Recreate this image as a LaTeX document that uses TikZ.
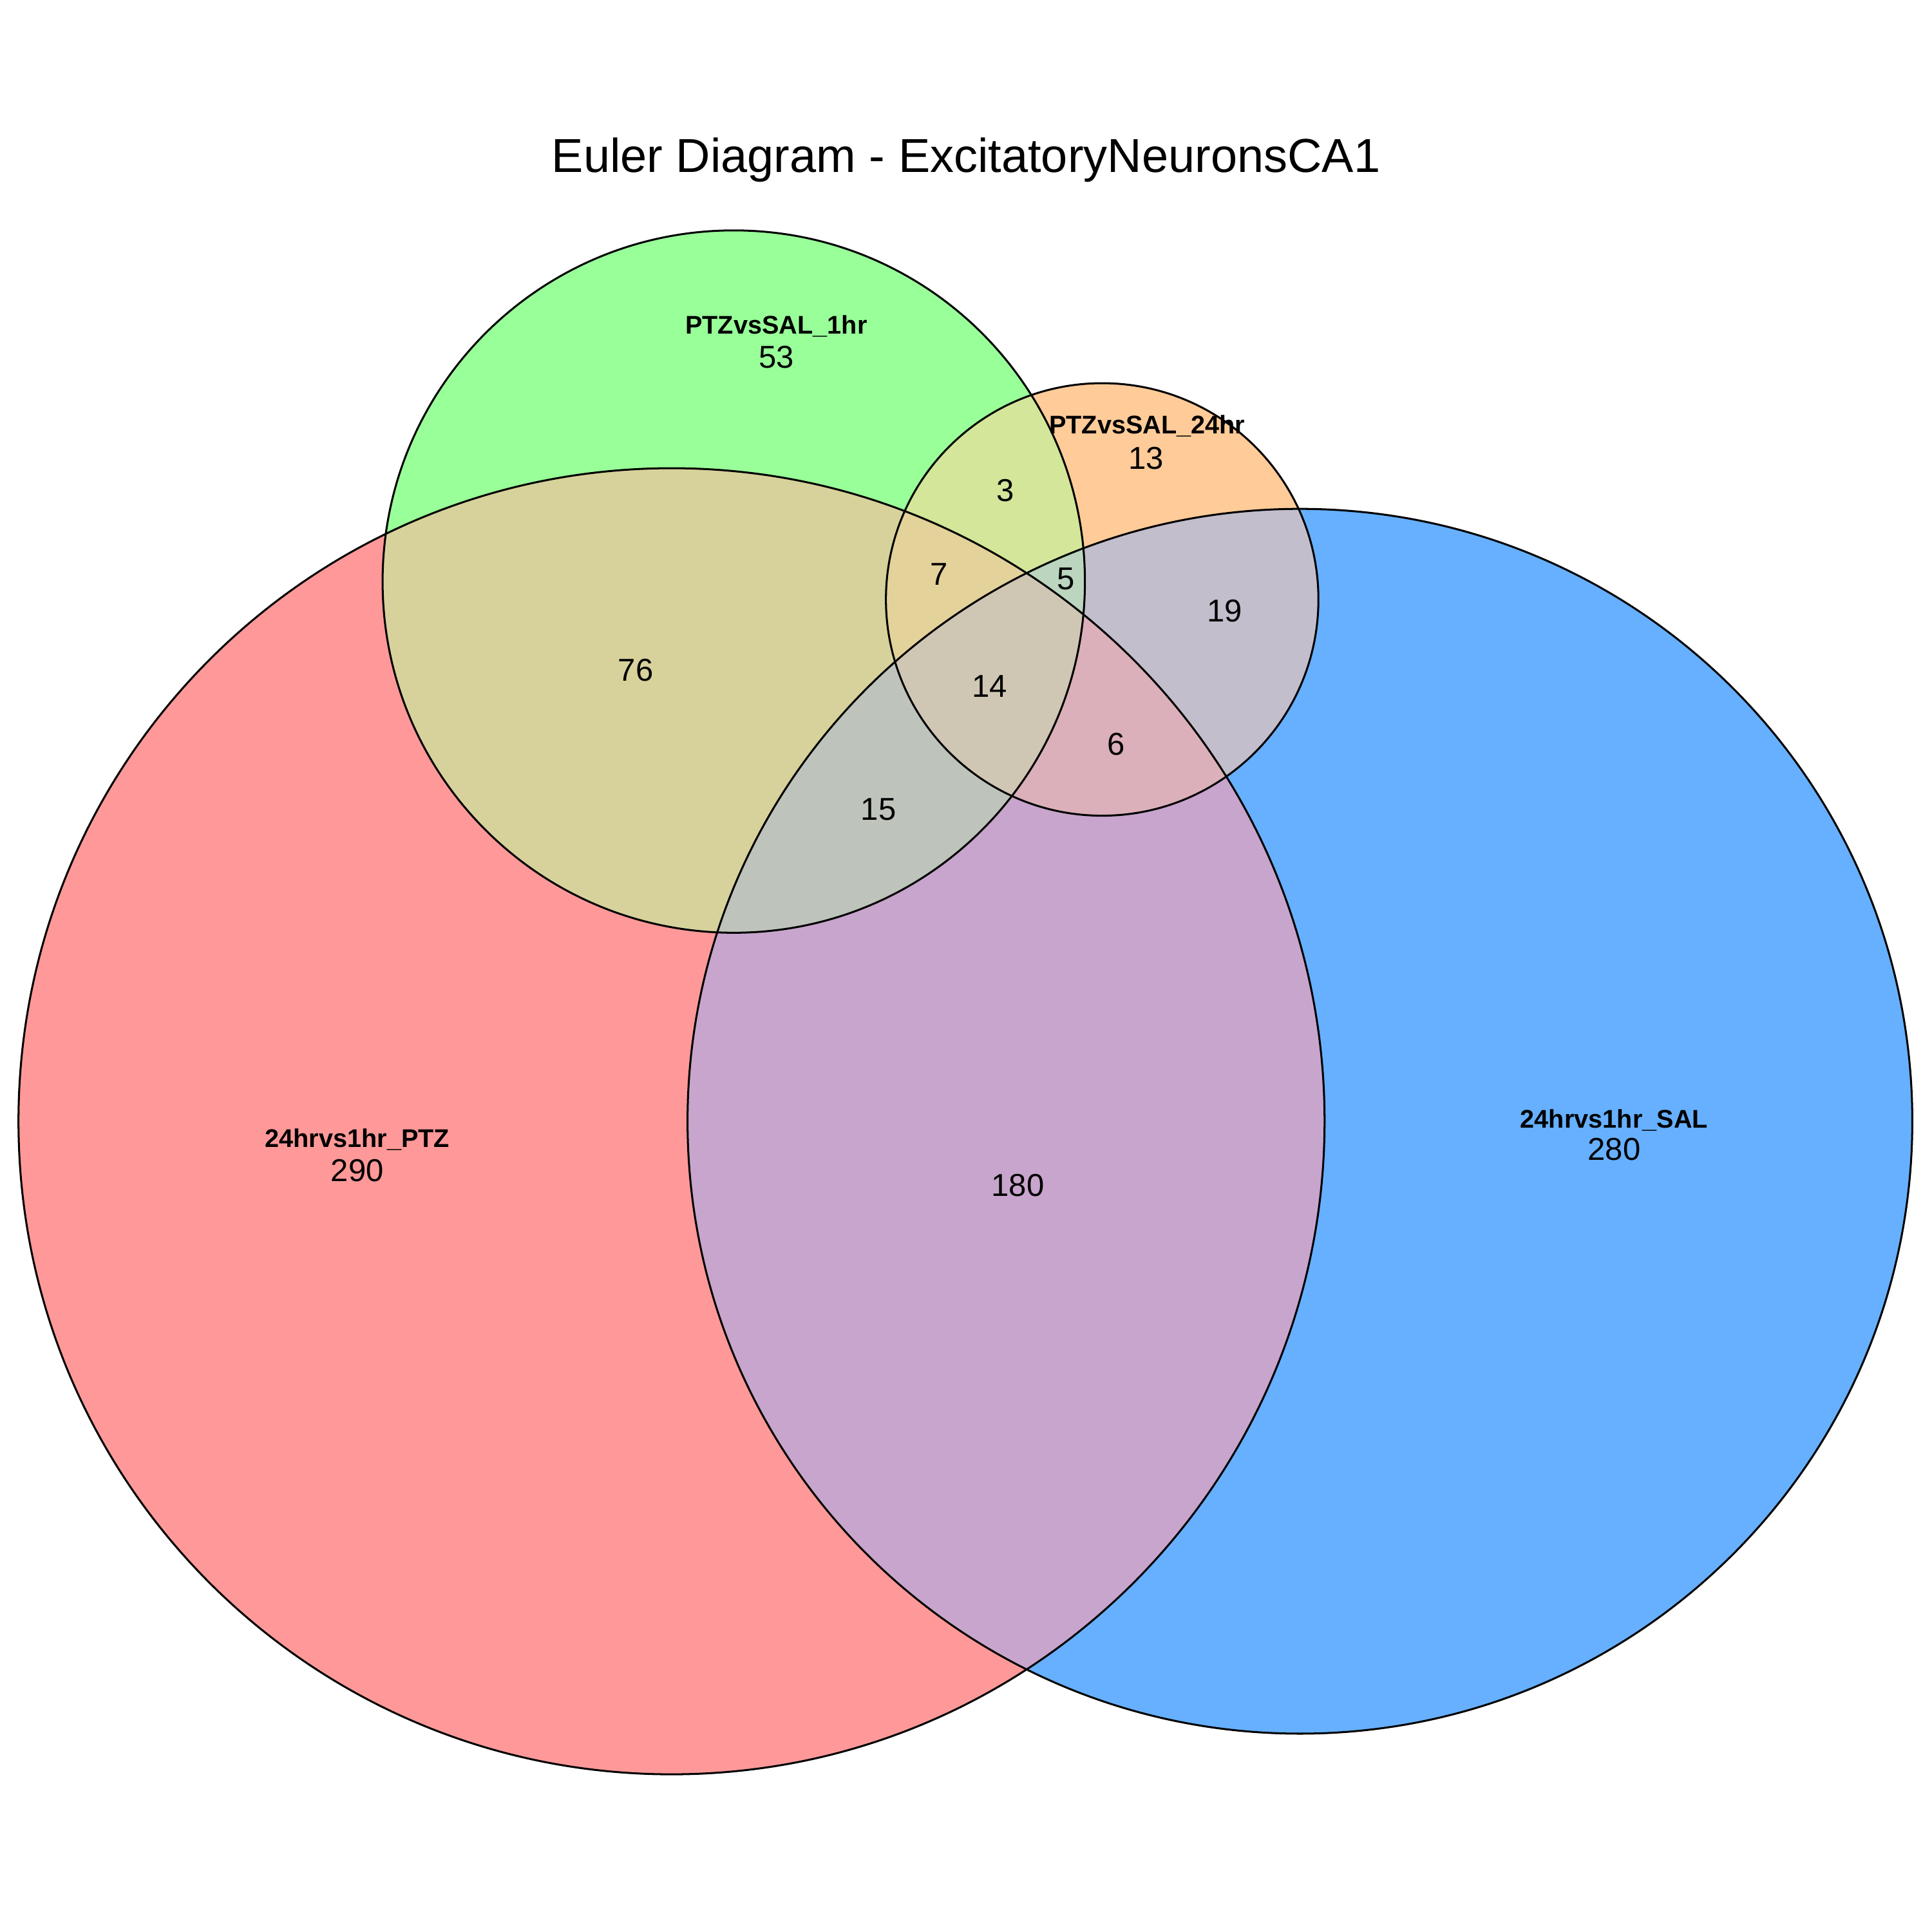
\documentclass[tikz,border=0pt]{standalone}
\usepackage{fontspec}
\setmainfont{Liberation Sans}
\definecolor{cred}{HTML}{FF9999}
\definecolor{cblue}{HTML}{66B0FF}
\definecolor{cgreen}{HTML}{99FF99}
\definecolor{corange}{HTML}{FFCB99}
\definecolor{crg}{HTML}{D7D29B}
\definecolor{crb}{HTML}{C8A5CC}
\definecolor{cro}{HTML}{EDC09F}
\definecolor{cgb}{HTML}{A6D6C4}
\definecolor{cgo}{HTML}{D3E69A}
\definecolor{cbo}{HTML}{C3BECC}
\definecolor{crgb}{HTML}{BEC4BB}
\definecolor{crgo}{HTML}{E3D29A}
\definecolor{crbo}{HTML}{DBB0BA}
\definecolor{cgbo}{HTML}{BBD5BE}
\definecolor{crgbo}{HTML}{CFC6B4}
% circles of the four sets
\def\cR{(5.45,-9.10) circle (5.30)}
\def\cB{(10.55,-9.10) circle (4.97)}
\def\cG{(5.955,-4.72) circle (2.85)}
\def\cO{(8.945,-4.865) circle (1.755)}

\begin{document}
\begin{tikzpicture}[
  setlabel/.style={font=\fontsize{5.9}{7}\selectfont\bfseries,inner sep=0pt},
  count/.style={font=\fontsize{7.3}{8.5}\selectfont,inner sep=0pt},
  ring/.style={draw=black,line width=0.45pt}]
  \useasboundingbox (0,0) rectangle (15.68,-15.68);
  \fill[white] (0,0) rectangle (15.68,-15.68);

  % single sets
  \fill[cred] \cR;
  \fill[cblue] \cB;
  \fill[cgreen] \cG;
  \fill[corange] \cO;
  % two sets
  \begin{scope}\clip \cR; \fill[crg] \cG; \end{scope}
  \begin{scope}\clip \cR; \fill[crb] \cB; \end{scope}
  \begin{scope}\clip \cR; \fill[cro] \cO; \end{scope}
  \begin{scope}\clip \cG; \fill[cgb] \cB; \end{scope}
  \begin{scope}\clip \cG; \fill[cgo] \cO; \end{scope}
  \begin{scope}\clip \cB; \fill[cbo] \cO; \end{scope}
  % three sets
  \begin{scope}\clip \cR; \clip \cG; \fill[crgb] \cB; \end{scope}
  \begin{scope}\clip \cR; \clip \cG; \fill[crgo] \cO; \end{scope}
  \begin{scope}\clip \cR; \clip \cB; \fill[crbo] \cO; \end{scope}
  \begin{scope}\clip \cG; \clip \cB; \fill[cgbo] \cO; \end{scope}
  % all four
  \begin{scope}\clip \cR; \clip \cG; \clip \cB; \fill[crgbo] \cO; \end{scope}

  \draw[ring] \cR;
  \draw[ring] \cB;
  \draw[ring] \cG;
  \draw[ring] \cO;

  \node[font=\fontsize{11}{13}\selectfont] (title) at (7.84,-1.30) {Euler Diagram - ExcitatoryNeuronsCA1};

  \node[setlabel] (lg) at (6.30,-2.65) {PTZvsSAL\_1hr};
  \node[count] (ng) at (6.30,-2.90) {53};
  \node[setlabel] (lo) at (9.31,-3.46) {PTZvsSAL\_24hr};
  \node[count] (no) at (9.30,-3.72) {13};
  \node[setlabel] (lr) at (2.90,-9.25) {24hrvs1hr\_PTZ};
  \node[count] (nr) at (2.90,-9.50) {290};
  \node[setlabel] (lb) at (13.10,-9.09) {24hrvs1hr\_SAL};
  \node[count] (nb) at (13.10,-9.33) {280};

  \node[count] (nrg) at (5.16,-5.44) {76};
  \node[count] (nrgo) at (7.62,-4.66) {7};
  \node[count] (ngo) at (8.16,-3.98) {3};
  \node[count] (ngbo) at (8.65,-4.70) {5};
  \node[count] (nbo) at (9.94,-4.96) {19};
  \node[count] (nall) at (8.03,-5.57) {14};
  \node[count] (nrbo) at (9.06,-6.04) {6};
  \node[count] (nrgb) at (7.13,-6.57) {15};
  \node[count] (nrb) at (8.26,-9.62) {180};
\end{tikzpicture}
\end{document}
